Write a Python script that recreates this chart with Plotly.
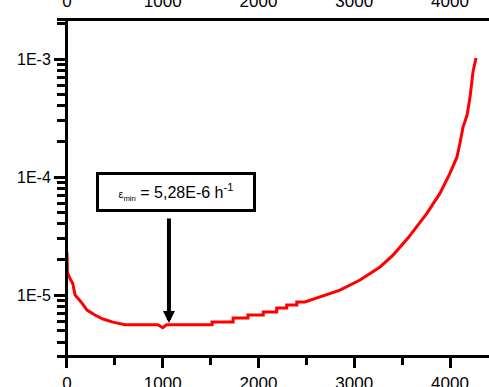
import plotly.graph_objects as go

# Creep curve: strain rate (1/h) versus time (h)
time_h = [0, 5, 40, 60, 85, 157, 209, 292, 376, 480, 605, 950, 1000, 1040,
          1515, 1515, 1735, 1735, 1890, 1890, 2050, 2050, 2190, 2190, 2295,
          2295, 2400, 2400, 2485, 2642, 2851, 3060, 3269, 3405, 3561, 3760,
          3896, 4000, 4073, 4104, 4136, 4178, 4209, 4240, 4271]
strain_rate = [2.3e-5, 1.55e-5, 1.34e-5, 1.26e-5, 1.0e-5, 8.55e-6, 7.46e-6,
               6.77e-6, 6.26e-6, 5.9e-6, 5.6e-6, 5.6e-6, 5.28e-6, 5.6e-6,
               5.6e-6, 5.9e-6, 5.9e-6, 6.38e-6, 6.38e-6, 6.77e-6, 6.77e-6,
               7.18e-6, 7.18e-6, 7.76e-6, 7.76e-6, 8.23e-6, 8.23e-6, 8.73e-6,
               8.73e-6, 9.6e-6, 1.10e-5, 1.34e-5, 1.73e-5, 2.18e-5, 3.04e-5,
               4.95e-5, 7.3e-5, 1.08e-4, 1.48e-4, 1.94e-4, 2.65e-4, 3.35e-4,
               4.76e-4, 7.8e-4, 1.02e-3]

x_ticks = [0, 1000, 2000, 3000, 4000]
y_ticks = [1e-5, 1e-4, 1e-3]
y_tick_text = ["1E-5", "1E-4", "1E-3"]
y_minor = [m * 10.0 ** e for e in (-6, -5, -4, -3) for m in range(2, 10)]

min_time = 1065
min_rate = 5.8e-6
min_label = "<span style='font-size:11px'>ε<sub>min</sub></span> = 5,28E-6 h<sup>-1</sup>"

FONT = "Arial, Liberation Sans, sans-serif"

fig = go.Figure()
fig.add_trace(go.Scatter(
    x=time_h, y=strain_rate, mode="lines",
    line=dict(color="#ff0000", width=3),
    showlegend=False, hoverinfo="skip",
))
fig.add_trace(go.Scatter(x=[None], y=[None], xaxis="x2", showlegend=False,
                         hoverinfo="skip"))

fig.update_layout(
    width=489, height=387,
    margin=dict(l=57, r=0, t=21, b=32, autoexpand=False),
    paper_bgcolor="white", plot_bgcolor="white",
    font=dict(family=FONT, color="black"),
    xaxis=dict(
        range=[-104, 4407], showgrid=False, zeroline=False,
        automargin=False,
        showline=True, linecolor="black", linewidth=3,
        tickmode="array", tickvals=x_ticks,
        ticks="outside", ticklen=10, tickwidth=3, tickcolor="black",
        ticklabelstandoff=1,
        tickfont=dict(size=17, family=FONT),
        minor=dict(dtick=500, tick0=500, ticks="outside", ticklen=7,
                   tickwidth=3, tickcolor="black", showgrid=False),
    ),
    xaxis2=dict(
        overlaying="x", side="top", anchor="y", matches="x",
        range=[-104, 4407], showgrid=False, zeroline=False,
        automargin=False,
        showline=True, linecolor="black", linewidth=3,
        tickmode="array", tickvals=x_ticks, ticks="",
        ticklabelstandoff=4,
        tickfont=dict(size=17, family=FONT),
    ),
    yaxis=dict(
        type="log", range=[-5.508, -2.678],
        anchor="free", position=9 / 432,
        automargin=False,
        showgrid=False, zeroline=False,
        showline=True, linecolor="black", linewidth=3,
        tickmode="array", tickvals=y_ticks, ticktext=y_tick_text,
        ticks="outside", ticklen=11, tickwidth=3, tickcolor="black",
        tickfont=dict(size=16, family=FONT),
        minor=dict(tickmode="array", tickvals=y_minor, ticks="outside",
                   ticklen=8, tickwidth=2.5, tickcolor="black",
                   showgrid=False),
    ),
)

# Labelled box giving the minimum creep rate
fig.add_annotation(
    x=1138, y=-4.123, xref="x", yref="y",
    text=min_label, showarrow=False,
    font=dict(size=16, family=FONT, color="black"),
    bgcolor="white", bordercolor="black", borderwidth=3, borderpad=2,
    width=150, height=30,
)
# Arrow pointing to the minimum of the curve
fig.add_annotation(
    x=min_time, y=-5.237, xref="x", yref="y",
    text="", showarrow=True, ax=0, ay=-106,
    arrowcolor="black", arrowwidth=4, arrowhead=2, arrowsize=0.6,
)

fig.write_html("out.html")
